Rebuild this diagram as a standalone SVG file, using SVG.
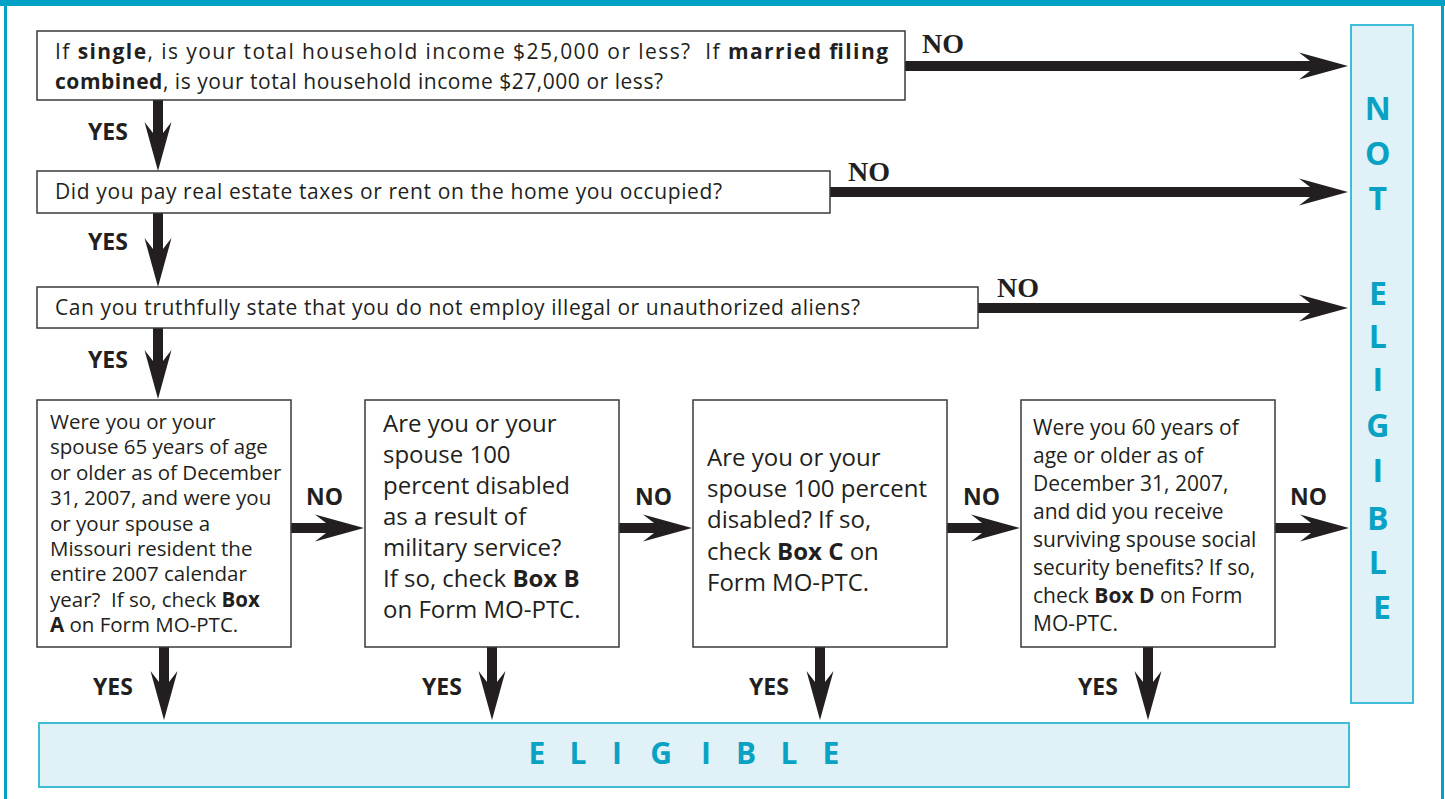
<svg xmlns="http://www.w3.org/2000/svg" width="1445" height="799" viewBox="0 0 1445 799">
<style>
.box{fill:#fff;stroke:#3a3a3a;stroke-width:1.5}
.tbox{fill:#e0f2f7;stroke:#3fbcd6;stroke-width:2}
.t{font-family:"Open Sans","Liberation Sans",sans-serif;fill:#231f20}
.b{font-weight:700}
.lbl{font-family:"Open Sans","Liberation Sans",sans-serif;font-weight:700;font-size:23px;fill:#231f20}
.nos{font-family:"Liberation Serif",serif;font-weight:700;font-size:28px;fill:#231f20}
.teal{font-family:"Open Sans","Liberation Sans",sans-serif;font-weight:700;fill:#0aa2c4;text-anchor:middle}
.sh{stroke:#231f20;stroke-width:10;fill:none}
</style>
<defs>
<marker id="ah" markerUnits="userSpaceOnUse" orient="auto" refX="0" refY="0" markerWidth="60" markerHeight="30" viewBox="-12 -15 60 30" overflow="visible">
<path d="M38,0 L-11,-13.5 L0,-5 L0,5 L-11,13.5 Z" fill="#231f20"/>
</marker>
</defs>
<rect x="0" y="0" width="1445" height="6" fill="#00a3c6"/>
<rect x="4" y="0" width="3" height="799" fill="#00a3c6"/>
<rect x="1441" y="0" width="3" height="799" fill="#00a3c6"/>

<g id="connectors">
<line class="sh" x1="905" y1="66" x2="1310" y2="66" marker-end="url(#ah)"/>
<line class="sh" x1="830" y1="192" x2="1310" y2="192" marker-end="url(#ah)"/>
<line class="sh" x1="978" y1="308" x2="1310" y2="308" marker-end="url(#ah)"/>
<line class="sh" x1="158" y1="100" x2="158" y2="133" marker-end="url(#ah)"/>
<line class="sh" x1="158" y1="213" x2="158" y2="249" marker-end="url(#ah)"/>
<line class="sh" x1="158" y1="328" x2="158" y2="361" marker-end="url(#ah)"/>
<line class="sh" x1="291" y1="528" x2="326" y2="528" marker-end="url(#ah)"/>
<line class="sh" x1="619" y1="528" x2="654" y2="528" marker-end="url(#ah)"/>
<line class="sh" x1="947" y1="528" x2="982" y2="528" marker-end="url(#ah)"/>
<line class="sh" x1="1275" y1="528" x2="1311" y2="528" marker-end="url(#ah)"/>
<line class="sh" x1="164" y1="647" x2="164" y2="682" marker-end="url(#ah)"/>
<line class="sh" x1="492" y1="647" x2="492" y2="682" marker-end="url(#ah)"/>
<line class="sh" x1="820" y1="647" x2="820" y2="682" marker-end="url(#ah)"/>
<line class="sh" x1="1148" y1="647" x2="1148" y2="682" marker-end="url(#ah)"/>
<text class="nos" x="922" y="53">NO</text>
<text class="nos" x="848" y="181">NO</text>
<text class="nos" x="997" y="297">NO</text>
<text class="lbl" x="88" y="140">YES</text>
<text class="lbl" x="88" y="250">YES</text>
<text class="lbl" x="88" y="368">YES</text>
<text class="lbl" x="306" y="505">NO</text>
<text class="lbl" x="635" y="505">NO</text>
<text class="lbl" x="963" y="505">NO</text>
<text class="lbl" x="1290" y="505">NO</text>
<text class="lbl" x="93" y="695">YES</text>
<text class="lbl" x="422" y="695">YES</text>
<text class="lbl" x="749" y="695">YES</text>
<text class="lbl" x="1078" y="695">YES</text>
</g>

<g id="q1">
<rect class="box" x="37" y="31" width="868" height="69"/>
<text class="t" font-size="21" x="55" y="59" textLength="833" lengthAdjust="spacing">If <tspan class="b">single</tspan>, is your total household income $25,000 or less?&#160; If <tspan class="b">married filing</tspan></text>
<text class="t" font-size="21" x="55" y="89" textLength="608" lengthAdjust="spacing"><tspan class="b">combined</tspan>, is your total household income $27,000 or less?</text>
</g>
<g id="q2">
<rect class="box" x="37" y="171" width="793" height="42"/>
<text class="t" font-size="21" x="55" y="199" textLength="667" lengthAdjust="spacing">Did you pay real estate taxes or rent on the home you occupied?</text>
</g>
<g id="q3">
<rect class="box" x="37" y="287" width="941" height="41"/>
<text class="t" font-size="21" x="55" y="315" textLength="805" lengthAdjust="spacing">Can you truthfully state that you do not employ illegal or unauthorized aliens?</text>
</g>
<g id="qA">
<rect class="box" x="37" y="400" width="254" height="247"/>
<text class="t" font-size="20.5">
<tspan x="50" y="429">Were you or your</tspan>
<tspan x="50" y="454.4">spouse 65 years of age</tspan>
<tspan x="50" y="479.8">or older as of December</tspan>
<tspan x="50" y="505.2">31, 2007, and were you</tspan>
<tspan x="50" y="530.6">or your spouse a</tspan>
<tspan x="50" y="556">Missouri resident the</tspan>
<tspan x="50" y="581.4">entire 2007 calendar</tspan>
<tspan x="50" y="606.8">year?&#160; If so, check <tspan class="b">Box</tspan></tspan>
<tspan x="50" y="632.2"><tspan class="b">A</tspan> on Form MO-PTC.</tspan>
</text>
</g>
<g id="qB">
<rect class="box" x="365" y="400" width="254" height="247"/>
<text class="t" font-size="24">
<tspan x="383" y="432">Are you or your</tspan>
<tspan x="383" y="463">spouse 100</tspan>
<tspan x="383" y="494">percent disabled</tspan>
<tspan x="383" y="525">as a result of</tspan>
<tspan x="383" y="556">military service?</tspan>
<tspan x="383" y="587">If so, check <tspan class="b">Box B</tspan></tspan>
<tspan x="383" y="618">on Form MO-PTC.</tspan>
</text>
</g>
<g id="qC">
<rect class="box" x="693" y="400" width="254" height="247"/>
<text class="t" font-size="24">
<tspan x="707" y="466">Are you or your</tspan>
<tspan x="707" y="497">spouse 100 percent</tspan>
<tspan x="707" y="528">disabled? If so,</tspan>
<tspan x="707" y="560">check <tspan class="b">Box C</tspan> on</tspan>
<tspan x="707" y="591">Form MO-PTC.</tspan>
</text>
</g>
<g id="qD">
<rect class="box" x="1021" y="400" width="254" height="247"/>
<text class="t" font-size="21">
<tspan x="1033" y="435">Were you 60 years of</tspan>
<tspan x="1033" y="463">age or older as of</tspan>
<tspan x="1033" y="491">December 31, 2007,</tspan>
<tspan x="1033" y="519">and did you receive</tspan>
<tspan x="1033" y="547">surviving spouse social</tspan>
<tspan x="1033" y="575">security benefits? If so,</tspan>
<tspan x="1033" y="603">check <tspan class="b">Box D</tspan> on Form</tspan>
<tspan x="1033" y="631">MO-PTC.</tspan>
</text>
</g>
<g id="not-eligible">
<rect class="tbox" x="1351" y="25" width="62" height="678"/>
<text class="teal" font-size="32" x="1382">
<tspan x="1382" y="120">N</tspan>
<tspan x="1382" y="165">O</tspan>
<tspan x="1382" y="210">T</tspan>
<tspan x="1382" y="305">E</tspan>
<tspan x="1382" y="348">L</tspan>
<tspan x="1382" y="391">I</tspan>
<tspan x="1382" y="437">G</tspan>
<tspan x="1382" y="482">I</tspan>
<tspan x="1382" y="530">B</tspan>
<tspan x="1382" y="574">L</tspan>
<tspan x="1382" y="619">E</tspan>
</text>
</g>
<g id="eligible">
<rect class="tbox" x="39" y="723" width="1310" height="64"/>
<text class="teal" font-size="30" y="764" x="537 578 617 661 706 746 789 831">ELIGIBLE</text>
</g>
</svg>
